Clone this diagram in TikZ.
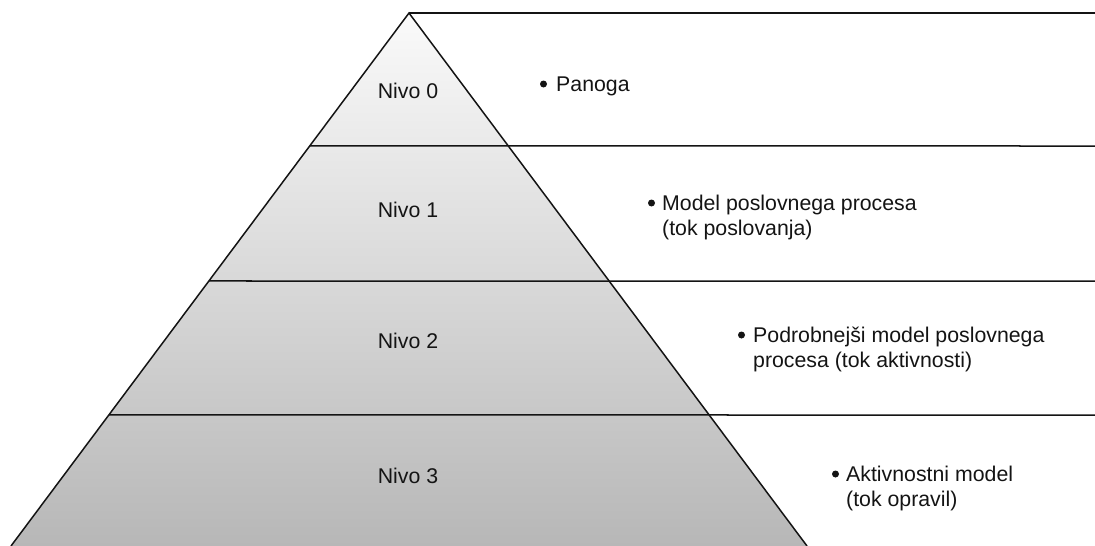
\documentclass[tikz,border=0pt]{standalone}
\usepackage{fontspec}
\setmainfont{Liberation Sans}
\usetikzlibrary{calc}
\definecolor{shadetop}{RGB}{250,250,250}
\definecolor{shadebot}{RGB}{183,183,183}
\definecolor{rule}{RGB}{20,20,20}
\definecolor{ink}{RGB}{20,20,20}
\tikzset{
  edge/.style={draw=rule, line width=1.5pt},
  label/.style={inner sep=0pt, anchor=base, text=ink, font=\fontsize{21.3}{25}\selectfont},
  item/.style={inner sep=0pt, anchor=base west, text=ink, font=\fontsize{21.3}{25}\selectfont},
  dot/.style={circle, fill=ink, inner sep=0pt, minimum size=7pt},
}
\begin{document}
\begin{tikzpicture}[x=1pt, y=-1pt]
\useasboundingbox (0,0) rectangle (1095,546);

% pyramid corners
\coordinate (apex) at (409,13);
\coordinate (bl) at (11,546);
\coordinate (br) at (807,546);

% level boundaries on the left flank
\coordinate (l1) at ($(apex)!0.2495!(bl)$);
\coordinate (l2) at ($(apex)!0.5028!(bl)$);
\coordinate (l3) at ($(apex)!0.7542!(bl)$);
\coordinate (r0) at (1095,13);
\coordinate (r1) at (1095,146);
\coordinate (r2) at (1095,281);
\coordinate (r3) at (1095,415);

% shaded body
\fill[top color=shadetop, bottom color=shadebot] (apex) -- (bl) -- (br) -- cycle;
\draw[edge] (bl) -- (apex) -- (br);

% level separators
\draw[edge] (apex) -- (r0);
\draw[edge] (l1) -- (r1);
\draw[edge] (l2) -- (r2);
\draw[edge] (l3) -- (r3);

% level names
\node[label] (n0) at (408,98) {Nivo 0};
\node[label] (n1) at (408,217) {Nivo 1};
\node[label] (n2) at (408,348) {Nivo 2};
\node[label] (n3) at (408,483) {Nivo 3};

% descriptions
\node[dot] (b0) at (543.5,84) {};
\node[item] (d0) at (556,91) {Panoga};

\node[dot] (b1) at (651.5,203) {};
\node[item] (d1a) at (662,210) {Model poslovnega procesa};
\node[item] (d1b) at (662,235) {(tok poslovanja)};

\node[dot] (b2) at (741.5,335) {};
\node[item] (d2a) at (753,342) {Podrobnejši model poslovnega};
\node[item] (d2b) at (753,367) {procesa (tok aktivnosti)};

\node[dot] (b3) at (835.5,474) {};
\node[item] (d3a) at (846,481) {Aktivnostni model};
\node[item] (d3b) at (846,506) {(tok opravil)};
\end{tikzpicture}
\end{document}
